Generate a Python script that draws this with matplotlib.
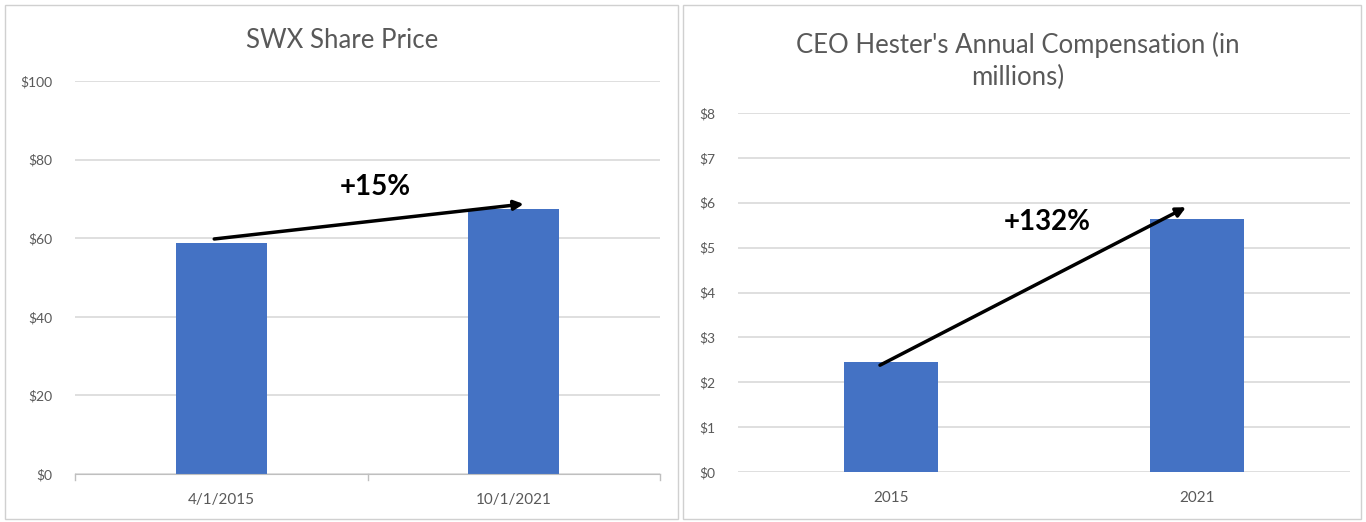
import matplotlib.pyplot as plt
from matplotlib.patches import Rectangle

# data
price_dates = ['4/1/2015', '10/1/2021']
price_values = [58.8, 67.4]
price_ticks = [0, 20, 40, 60, 80, 100]

comp_years = ['2015', '2021']
comp_values = [2.45, 5.63]
comp_ticks = [0, 1, 2, 3, 4, 5, 6, 7, 8]

bar_color = '#4472C4'
grid_color = '#d9d9d9'
text_color = '#595959'

plt.rcParams['font.family'] = ['Lato', 'DejaVu Sans']

fig = plt.figure(figsize=(13.66, 5.22), dpi=100)

# panel borders
fig.patches.append(Rectangle((5 / 1366, 3 / 522), 673 / 1366, 514 / 522, transform=fig.transFigure,
                             fill=False, edgecolor='#d0d0d0', linewidth=1))
fig.patches.append(Rectangle((683 / 1366, 3 / 522), 678 / 1366, 514 / 522, transform=fig.transFigure,
                             fill=False, edgecolor='#d0d0d0', linewidth=1))


def style_axes(ax, ticks, fmt):
    ax.set_yticks(ticks)
    ax.set_yticklabels([fmt(t) for t in ticks])
    ax.set_ylim(ticks[0], ticks[-1])
    ax.grid(axis='y', color=grid_color, linewidth=1.2)
    ax.set_axisbelow(True)
    for s in ax.spines.values():
        s.set_visible(False)
    ax.tick_params(axis='y', length=0, pad=16, labelsize=10, labelcolor=text_color)
    ax.tick_params(axis='x', length=0, pad=14, labelsize=11, labelcolor=text_color)


# left chart: share price
ax1 = fig.add_axes([75 / 1366, 48 / 522, 585 / 1366, 393 / 522])
x1 = range(len(price_dates))
ax1.bar(x1, price_values, width=0.31, color=bar_color, zorder=2)
ax1.set_xlim(-0.5, 1.5)
style_axes(ax1, price_ticks, lambda t: '$%d' % t)
ax1.set_xticks(list(x1))
ax1.set_xticklabels(price_dates)
# x axis line with category separators
ax1.spines['bottom'].set_visible(True)
ax1.spines['bottom'].set_color('#bfbfbf')
for xs in [-0.5, 0.5, 1.5]:
    ax1.plot([xs, xs], [0, -1.6], color='#bfbfbf', linewidth=1, clip_on=False)
ax1.annotate('', xy=(1.034, 68.7), xytext=(-0.024, 59.8),
             arrowprops=dict(arrowstyle='-|>', color='black', lw=2.5, mutation_scale=14,
                             shrinkA=0, shrinkB=0), zorder=5)
ax1.text(0.526, 73.0, '+15%', ha='center', va='center', fontsize=20, fontweight='bold', color='black')
fig.text(342 / 1366, 1 - 40 / 522, 'SWX Share Price', ha='center', va='center',
         fontsize=18.5, color=text_color)

# right chart: CEO compensation
ax2 = fig.add_axes([738 / 1366, 50 / 522, 612 / 1366, 359 / 522])
x2 = range(len(comp_years))
ax2.bar(x2, comp_values, width=0.31, color=bar_color, zorder=2)
ax2.set_xlim(-0.5, 1.5)
style_axes(ax2, comp_ticks, lambda t: '$%d' % t)
ax2.set_xticks(list(x2))
ax2.set_xticklabels(comp_years)
ax2.annotate('', xy=(0.964, 5.90), xytext=(-0.036, 2.38),
             arrowprops=dict(arrowstyle='-|>', color='black', lw=2.5, mutation_scale=14,
                             shrinkA=0, shrinkB=0), zorder=5)
ax2.text(0.51, 5.57, '+132%', ha='center', va='center', fontsize=20, fontweight='bold', color='black')
fig.text(1018 / 1366, 1 - 61 / 522, "CEO Hester's Annual Compensation (in\nmillions)", ha='center',
         va='center', fontsize=18.5, color=text_color, linespacing=1.35)

fig.savefig('out.png', dpi=100)
